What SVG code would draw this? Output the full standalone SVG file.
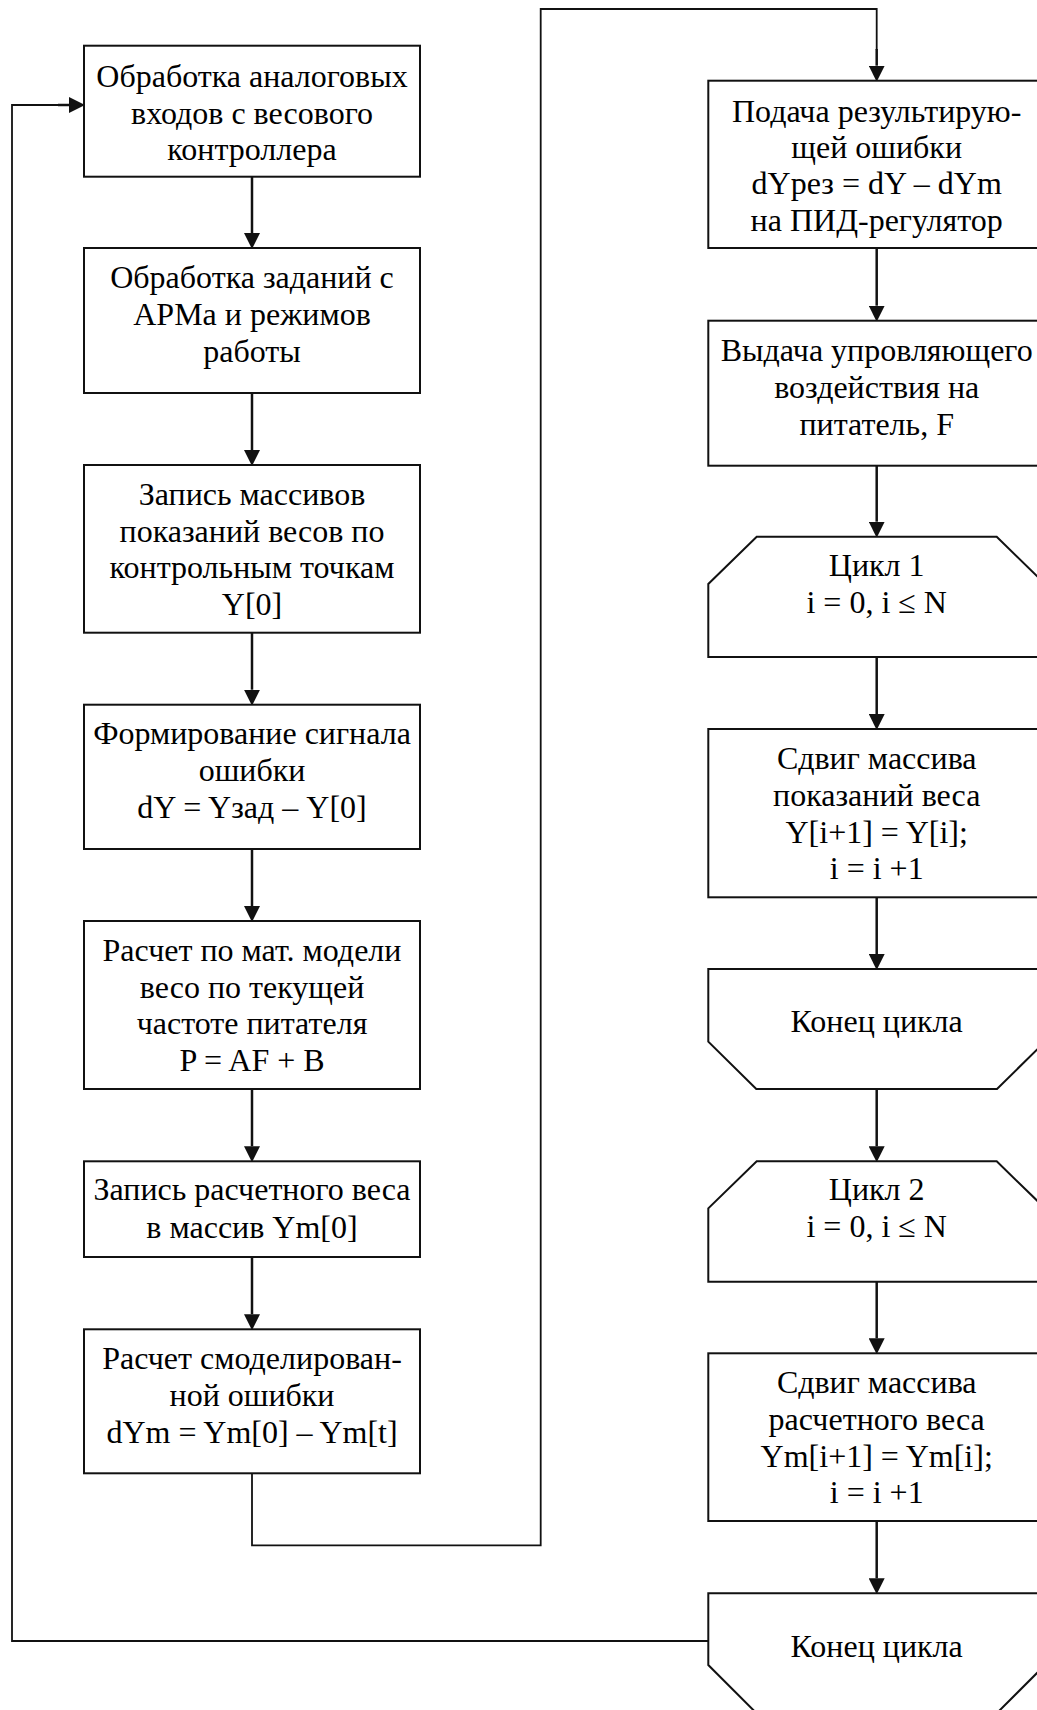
<svg xmlns="http://www.w3.org/2000/svg" width="1037" height="1710" viewBox="0 0 1037 1710">
<style>
.box{fill:#fff;stroke:#111;stroke-width:2}
.t{font-family:"Liberation Serif","Times New Roman",serif;font-size:32px;fill:#000;text-anchor:middle}
.ar{fill:none;stroke:#111;stroke-width:2.5}
.ln{fill:none;stroke:#111;stroke-width:1.8}
</style>
<defs>
<marker id="ah" markerUnits="userSpaceOnUse" markerWidth="16" markerHeight="16" viewBox="0 0 15 15" refX="0" refY="7.5" orient="auto">
<path d="M0,0 L15,7.5 L0,15 z" fill="#111"/>
</marker>
</defs>
<rect width="1037" height="1710" fill="#fff"/>
<g id="connectors">
<path class="ar" d="M252,177 V233" marker-end="url(#ah)"/>
<path class="ar" d="M252,393 V450" marker-end="url(#ah)"/>
<path class="ar" d="M252,632.7 V689.7" marker-end="url(#ah)"/>
<path class="ar" d="M252,849 V906" marker-end="url(#ah)"/>
<path class="ar" d="M252,1089 V1146.3" marker-end="url(#ah)"/>
<path class="ar" d="M252,1257 V1314.3" marker-end="url(#ah)"/>
<path class="ln" d="M252,1473 V1545.3 H540.7 V9 H876.7 V50"/>
<path class="ar" d="M876.7,49 V65.7" marker-end="url(#ah)"/>
<path class="ar" d="M876.7,248 V305.7" marker-end="url(#ah)"/>
<path class="ar" d="M876.7,465.7 V521.7" marker-end="url(#ah)"/>
<path class="ar" d="M876.7,657 V714" marker-end="url(#ah)"/>
<path class="ar" d="M876.7,897.3 V954" marker-end="url(#ah)"/>
<path class="ar" d="M876.7,1089 V1146.3" marker-end="url(#ah)"/>
<path class="ar" d="M876.7,1281.7 V1338.3" marker-end="url(#ah)"/>
<path class="ar" d="M876.7,1521 V1578.3" marker-end="url(#ah)"/>
<path class="ln" d="M708.3,1641 H12 V105 H60"/>
<path class="ar" d="M58,105 H69" marker-end="url(#ah)"/>
</g>
<g id="n1">
<rect class="box" x="84" y="45.7" width="336" height="131"/>
<text class="t" x="252" y="87.3">Обработка аналоговых</text>
<text class="t" x="252" y="123.6">входов с весового</text>
<text class="t" x="252" y="159.9">контроллера</text>
</g>
<g id="n2">
<rect class="box" x="84" y="248" width="336" height="145"/>
<text class="t" x="252" y="288.3">Обработка заданий с</text>
<text class="t" x="252" y="325">АРМа и режимов</text>
<text class="t" x="252" y="362">работы</text>
</g>
<g id="n3">
<rect class="box" x="84" y="465" width="336" height="167.7"/>
<text class="t" x="252" y="505">Запись массивов</text>
<text class="t" x="252" y="541.7">показаний весов по</text>
<text class="t" x="252" y="578.3">контрольным точкам</text>
<text class="t" x="252" y="615">Y[0]</text>
</g>
<g id="n4">
<rect class="box" x="84" y="704.7" width="336" height="144.3"/>
<text class="t" x="252" y="744.3">Формирование сигнала</text>
<text class="t" x="252" y="781">ошибки</text>
<text class="t" x="252" y="817.7">dY = Yзад – Y[0]</text>
</g>
<g id="n5">
<rect class="box" x="84" y="921" width="336" height="168"/>
<text class="t" x="252" y="961">Расчет по мат. модели</text>
<text class="t" x="252" y="997.7">весо по текущей</text>
<text class="t" x="252" y="1034.3">частоте питателя</text>
<text class="t" x="252" y="1071">P = AF + B</text>
</g>
<g id="n6">
<rect class="box" x="84" y="1161.3" width="336" height="95.7"/>
<text class="t" x="252" y="1200">Запись расчетного веса</text>
<text class="t" x="252" y="1238.3">в массив Ym[0]</text>
</g>
<g id="n7">
<rect class="box" x="84" y="1329.3" width="336" height="144"/>
<text class="t" x="252" y="1369">Расчет смоделирован-</text>
<text class="t" x="252" y="1405.7">ной ошибки</text>
<text class="t" x="252" y="1443.3">dYm = Ym[0] – Ym[t]</text>
</g>
<g id="r1">
<rect class="box" x="708.3" y="80.7" width="336.7" height="167.3"/>
<text class="t" x="876.7" y="121.7">Подача результирую-</text>
<text class="t" x="876.7" y="157.7">щей ошибки</text>
<text class="t" x="876.7" y="194">dYрез = dY – dYm</text>
<text class="t" x="876.7" y="230.7">на ПИД-регулятор</text>
</g>
<g id="r2">
<rect class="box" x="708.3" y="320.7" width="336.7" height="145"/>
<text class="t" x="876.7" y="361">Выдача упровляющего</text>
<text class="t" x="876.7" y="398.3">воздействия на</text>
<text class="t" x="876.7" y="435">питатель, F</text>
</g>
<g id="r3">
<path class="box" d="M756.7,536.7 H996.7 L1045,584 V657 H708.3 V584 Z"/>
<text class="t" x="876.7" y="575.7">Цикл 1</text>
<text class="t" x="876.7" y="613.3">i = 0, i ≤ N</text>
</g>
<g id="r4">
<rect class="box" x="708.3" y="729" width="336.7" height="168.3"/>
<text class="t" x="876.7" y="769">Сдвиг массива</text>
<text class="t" x="876.7" y="806">показаний веса</text>
<text class="t" x="876.7" y="843">Y[i+1] = Y[i];</text>
<text class="t" x="876.7" y="879">i = i +1</text>
</g>
<g id="r5">
<path class="box" d="M708.3,969 H1045 V1041.7 L997,1089 H756.3 L708.3,1041.7 Z"/>
<text class="t" x="876.7" y="1032.3">Конец цикла</text>
</g>
<g id="r6">
<path class="box" d="M756.7,1161.3 H996.7 L1045,1208.3 V1281.7 H708.3 V1208.3 Z"/>
<text class="t" x="876.7" y="1200">Цикл 2</text>
<text class="t" x="876.7" y="1237.3">i = 0, i ≤ N</text>
</g>
<g id="r7">
<rect class="box" x="708.3" y="1353.3" width="336.7" height="167.7"/>
<text class="t" x="876.7" y="1393.3">Сдвиг массива</text>
<text class="t" x="876.7" y="1430">расчетного веса</text>
<text class="t" x="876.7" y="1467.3">Ym[i+1] = Ym[i];</text>
<text class="t" x="876.7" y="1503.3">i = i +1</text>
</g>
<g id="r8">
<path class="box" d="M708.3,1593.3 H1045 V1665 L997,1713 H756.3 L708.3,1665 Z"/>
<text class="t" x="876.7" y="1657.3">Конец цикла</text>
</g>
</svg>
